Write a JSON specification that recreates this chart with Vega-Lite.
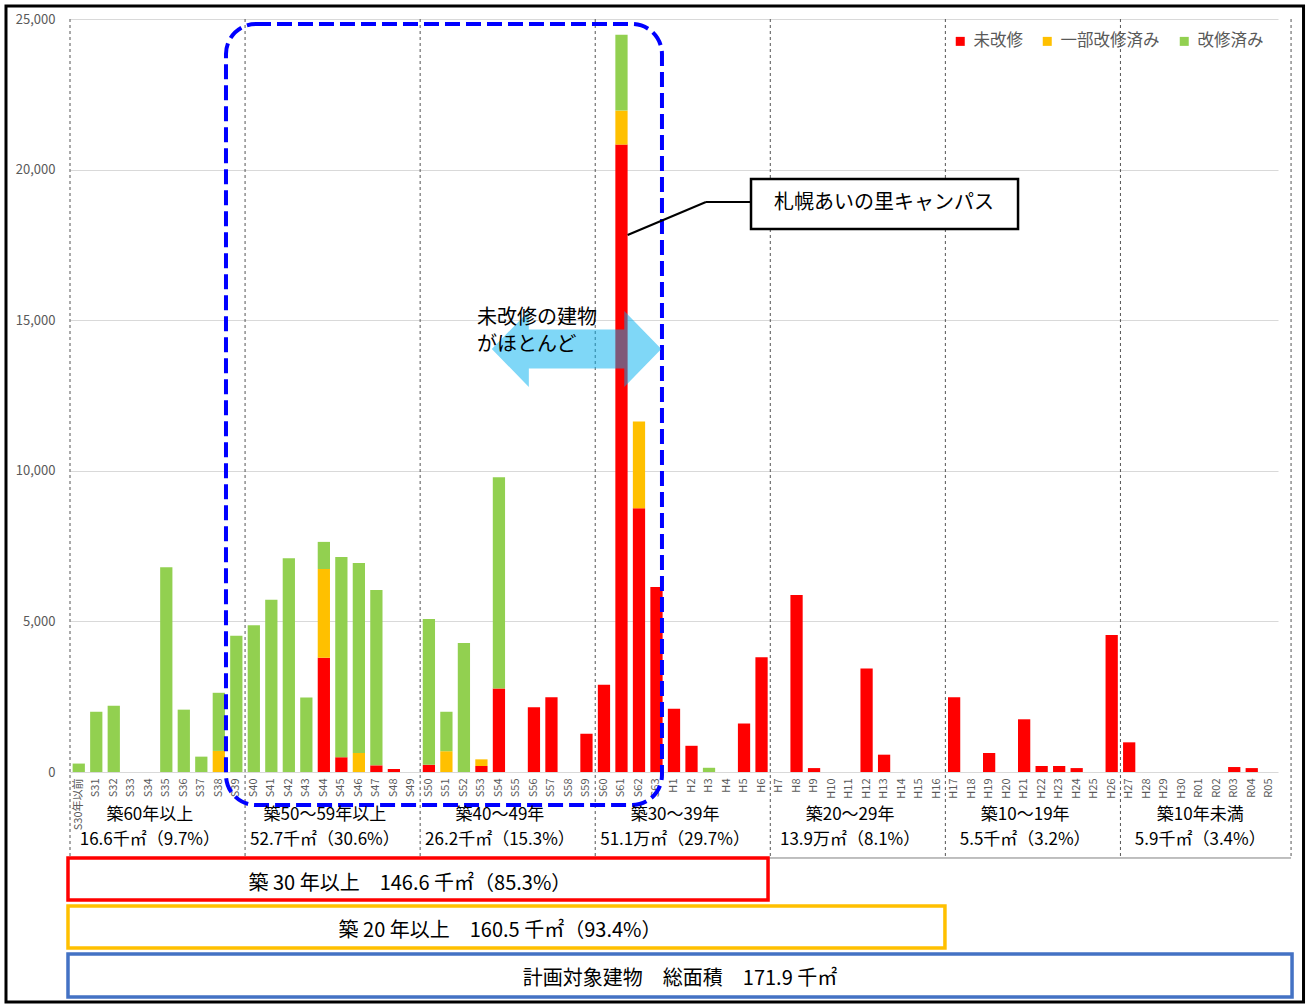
{
  "$schema": "https://vega.github.io/schema/vega-lite/v6.json",
  "autosize": {"type": "none"},
  "padding": {"left": 70, "top": 19, "right": 30, "bottom": 233},
  "width": 1208,
  "height": 753,
  "background": "white",
  "config": {"font": "Noto Sans CJK JP", "view": {"stroke": null}},
  "datasets": {
    "bars": [
      {"year": "S30年以前", "status": "改修済み", "area": 280},
      {"year": "S31", "status": "改修済み", "area": 2000},
      {"year": "S32", "status": "改修済み", "area": 2200},
      {"year": "S35", "status": "改修済み", "area": 6800},
      {"year": "S36", "status": "改修済み", "area": 2070},
      {"year": "S37", "status": "改修済み", "area": 510},
      {"year": "S38", "status": "一部改修済み", "area": 700},
      {"year": "S38", "status": "改修済み", "area": 1930},
      {"year": "S39", "status": "改修済み", "area": 4520},
      {"year": "S40", "status": "改修済み", "area": 4870},
      {"year": "S41", "status": "改修済み", "area": 5720},
      {"year": "S42", "status": "改修済み", "area": 7100},
      {"year": "S43", "status": "改修済み", "area": 2470},
      {"year": "S44", "status": "未改修", "area": 3790},
      {"year": "S44", "status": "一部改修済み", "area": 2950},
      {"year": "S44", "status": "改修済み", "area": 900},
      {"year": "S45", "status": "未改修", "area": 490},
      {"year": "S45", "status": "改修済み", "area": 6650},
      {"year": "S46", "status": "一部改修済み", "area": 630},
      {"year": "S46", "status": "改修済み", "area": 6310},
      {"year": "S47", "status": "未改修", "area": 220},
      {"year": "S47", "status": "改修済み", "area": 5820},
      {"year": "S48", "status": "未改修", "area": 100},
      {"year": "S50", "status": "未改修", "area": 240},
      {"year": "S50", "status": "改修済み", "area": 4840},
      {"year": "S51", "status": "一部改修済み", "area": 690},
      {"year": "S51", "status": "改修済み", "area": 1310},
      {"year": "S52", "status": "改修済み", "area": 4280},
      {"year": "S53", "status": "未改修", "area": 200},
      {"year": "S53", "status": "一部改修済み", "area": 220},
      {"year": "S54", "status": "未改修", "area": 2770},
      {"year": "S54", "status": "改修済み", "area": 7020},
      {"year": "S56", "status": "未改修", "area": 2150},
      {"year": "S57", "status": "未改修", "area": 2480},
      {"year": "S59", "status": "未改修", "area": 1270},
      {"year": "S60", "status": "未改修", "area": 2900},
      {"year": "S61", "status": "未改修", "area": 20830},
      {"year": "S61", "status": "一部改修済み", "area": 1130},
      {"year": "S61", "status": "改修済み", "area": 2520},
      {"year": "S62", "status": "未改修", "area": 8760},
      {"year": "S62", "status": "一部改修済み", "area": 2880},
      {"year": "S63", "status": "未改修", "area": 6140},
      {"year": "H1", "status": "未改修", "area": 2100},
      {"year": "H2", "status": "未改修", "area": 870},
      {"year": "H3", "status": "改修済み", "area": 140},
      {"year": "H5", "status": "未改修", "area": 1610},
      {"year": "H6", "status": "未改修", "area": 3810},
      {"year": "H8", "status": "未改修", "area": 5880},
      {"year": "H9", "status": "未改修", "area": 130},
      {"year": "H12", "status": "未改修", "area": 3440},
      {"year": "H13", "status": "未改修", "area": 575},
      {"year": "H17", "status": "未改修", "area": 2480},
      {"year": "H19", "status": "未改修", "area": 630},
      {"year": "H21", "status": "未改修", "area": 1750},
      {"year": "H22", "status": "未改修", "area": 200},
      {"year": "H23", "status": "未改修", "area": 200},
      {"year": "H24", "status": "未改修", "area": 130},
      {"year": "H26", "status": "未改修", "area": 4550},
      {"year": "H27", "status": "未改修", "area": 985},
      {"year": "R03", "status": "未改修", "area": 165},
      {"year": "R04", "status": "未改修", "area": 130}
    ],
    "statuses": [
      {"status": "未改修", "rank": 1},
      {"status": "一部改修済み", "rank": 2},
      {"status": "改修済み", "rank": 3}
    ],
    "groups": [
      {"from": "S30年以前", "label1": "築60年以上", "label2": "16.6千㎡（9.7%）"},
      {"from": "S40", "label1": "築50～59年以上", "label2": "52.7千㎡（30.6%）"},
      {"from": "S50", "label1": "築40～49年", "label2": "26.2千㎡（15.3%）"},
      {"from": "S60", "label1": "築30～39年", "label2": "51.1万㎡（29.7%）"},
      {"from": "H7", "label1": "築20～29年", "label2": "13.9万㎡（8.1%）"},
      {"from": "H17", "label1": "築10～19年", "label2": "5.5千㎡（3.2%）"},
      {"from": "H27", "label1": "築10年未満", "label2": "5.9千㎡（3.4%）"}
    ]
  },
  "layer": [
    {
      "data": {"name": "groups"},
      "mark": {"type": "rule", "stroke": "#555555", "strokeWidth": 1, "strokeDash": [3, 3]},
      "encoding": {
        "x": {"field": "from", "type": "nominal", "bandPosition": -0.214},
        "y": {"datum": 25000},
        "y2": {"datum": -2855}
      }
    },
    {
      "data": {"values": [{}]},
      "mark": {"type": "rule", "stroke": "#555555", "strokeWidth": 1, "strokeDash": [3, 3]},
      "encoding": {
        "x": {"datum": "R05", "bandPosition": 2.28},
        "y": {"datum": 25000},
        "y2": {"datum": -2855}
      }
    },
    {
      "data": {"values": [{}]},
      "mark": {"type": "rule", "stroke": "#7f7f7f", "strokeWidth": 1},
      "encoding": {
        "x": {"datum": "S30年以前", "bandPosition": -0.214},
        "x2": {"datum": "R05", "bandPosition": 2.28},
        "y": {"datum": -2855}
      }
    },
    {
      "data": {"name": "bars"},
      "transform": [
        {"lookup": "status", "from": {"data": {"name": "statuses"}, "key": "status", "fields": ["rank"]}}
      ],
      "mark": {"type": "bar"},
      "encoding": {
        "x": {
          "field": "year",
          "type": "nominal",
          "title": null,
          "scale": {
            "domain": ["S30年以前","S31","S32","S33","S34","S35","S36","S37","S38","S39","S40","S41","S42","S43","S44","S45","S46","S47","S48","S49","S50","S51","S52","S53","S54","S55","S56","S57","S58","S59","S60","S61","S62","S63","H1","H2","H3","H4","H5","H6","H7","H8","H9","H10","H11","H12","H13","H14","H15","H16","H17","H18","H19","H20","H21","H22","H23","H24","H25","H26","H27","H28","H29","H30","R01","R02","R03","R04","R05"],
            "paddingInner": 0.3,
            "paddingOuter": 0.15,
            "round": false
          },
          "axis": {
            "labelAngle": 270,
            "labelAlign": "right",
            "labelBaseline": "middle",
            "labelFontSize": 11,
            "labelColor": "#595959",
            "labelPadding": 6,
            "ticks": false,
            "tickSize": 0,
            "domain": false,
            "grid": false,
            "labelOverlap": false
          }
        },
        "y": {
          "field": "area",
          "type": "quantitative",
          "stack": "zero",
          "title": null,
          "scale": {"domain": [0, 25000], "nice": false},
          "axis": {
            "values": [0, 5000, 10000, 15000, 20000, 25000],
            "format": ",d",
            "grid": true,
            "gridColor": "#d9d9d9",
            "gridWidth": 1,
            "domain": false,
            "ticks": false,
            "labelFontSize": 13,
            "labelColor": "#595959",
            "labelPadding": 15
          }
        },
        "color": {
          "field": "status",
          "type": "nominal",
          "scale": {"domain": ["未改修", "一部改修済み", "改修済み"], "range": ["#FF0000", "#FFC000", "#92D050"]},
          "legend": {
            "title": null,
            "orient": "top-right",
            "direction": "horizontal",
            "offset": 14,
            "symbolType": "square",
            "symbolSize": 81,
            "symbolStrokeWidth": 0,
            "labelFontSize": 16.5,
            "labelColor": "#595959",
            "labelOffset": 5,
            "columnPadding": 16,
            "padding": 0
          }
        },
        "order": {"field": "rank", "type": "quantitative", "sort": "ascending"}
      }
    },
    {
      "data": {"values": [{}]},
      "mark": {"type": "rect", "fill": "white", "fillOpacity": 0, "stroke": "#0000FF", "strokeWidth": 4, "strokeDash": [15, 6], "cornerRadius": 30},
      "encoding": {
        "x": {"datum": "S39", "bandPosition": -0.343},
        "x2": {"datum": "S63", "bandPosition": 0.947},
        "y": {"datum": 24834},
        "y2": {"datum": -1096}
      }
    },
    {
      "data": {"values": [{}]},
      "mark": {"type": "point", "shape": "M-1,0 L-0.563,-0.448 L-0.563,-0.23 L0.563,-0.23 L0.563,-0.448 L1,0 L0.563,0.448 L0.563,0.23 L-0.563,0.23 L-0.563,0.448 Z", "size": 28730, "filled": true, "fill": "#00B0F0", "fillOpacity": 0.5, "strokeWidth": 0, "opacity": 1},
      "encoding": {
        "x": {"datum": "S58", "bandPosition": 1.12},
        "y": {"datum": 14044}
      }
    },
    {
      "data": {"values": [{"text": "未改修の建物\nがほとんど"}]},
      "mark": {"type": "text", "align": "left", "baseline": "middle", "fontSize": 20, "lineHeight": 27, "lineBreak": "\n", "color": "#000000"},
      "encoding": {
        "x": {"datum": "S53", "bandPosition": 0.14},
        "y": {"datum": 15073},
        "text": {"field": "text"}
      }
    },
    {
      "data": {"values": [{}]},
      "mark": {"type": "rule", "stroke": "#000000", "strokeWidth": 2},
      "encoding": {
        "x": {"datum": "S61", "bandPosition": 1.0},
        "x2": {"datum": "H3", "bandPosition": 0.25},
        "y": {"datum": 17829},
        "y2": {"datum": 18924}
      }
    },
    {
      "data": {"values": [{}]},
      "mark": {"type": "rule", "stroke": "#000000", "strokeWidth": 2},
      "encoding": {
        "x": {"datum": "H3", "bandPosition": 0.25},
        "x2": {"datum": "H5", "bandPosition": 1.07},
        "y": {"datum": 18924}
      }
    },
    {
      "data": {"values": [{}]},
      "mark": {"type": "rect", "fill": "white", "stroke": "#000000", "strokeWidth": 2.5},
      "encoding": {
        "x": {"datum": "H5", "bandPosition": 1.07},
        "x2": {"datum": "H20", "bandPosition": 1.43},
        "y": {"datum": 19688},
        "y2": {"datum": 18028}
      }
    },
    {
      "data": {"values": [{"text": "札幌あいの里キャンパス"}]},
      "mark": {"type": "text", "align": "center", "baseline": "middle", "fontSize": 20, "color": "#000000"},
      "encoding": {
        "x": {"datum": "H13", "bandPosition": 0.49},
        "y": {"datum": 18891},
        "text": {"field": "text"}
      }
    },
    {
      "data": {"name": "groups"},
      "mark": {"type": "text", "align": "center", "baseline": "middle", "fontSize": 17, "color": "#000000"},
      "encoding": {
        "x": {"field": "from", "type": "nominal", "bandPosition": 6.3},
        "y": {"datum": -1428},
        "text": {"field": "label1"}
      }
    },
    {
      "data": {"name": "groups"},
      "mark": {"type": "text", "align": "center", "baseline": "middle", "fontSize": 17, "color": "#000000"},
      "encoding": {
        "x": {"field": "from", "type": "nominal", "bandPosition": 6.3},
        "y": {"datum": -2258},
        "text": {"field": "label2"}
      }
    },
    {
      "data": {"values": [{}]},
      "mark": {"type": "rect", "fill": "white", "fillOpacity": 0, "stroke": "#FF0000", "strokeWidth": 3.5},
      "encoding": {
        "x": {"datum": "S30年以前", "bandPosition": -0.378},
        "x2": {"datum": "H6", "bandPosition": 1.03},
        "y": {"datum": -2855},
        "y2": {"datum": -4250}
      }
    },
    {
      "data": {"values": [{}]},
      "mark": {"type": "rect", "fill": "white", "fillOpacity": 0, "stroke": "#FFC000", "strokeWidth": 3.5},
      "encoding": {
        "x": {"datum": "S30年以前", "bandPosition": -0.378},
        "x2": {"datum": "H16", "bandPosition": 1.18},
        "y": {"datum": -4449},
        "y2": {"datum": -5843}
      }
    },
    {
      "data": {"values": [{}]},
      "mark": {"type": "rect", "fill": "white", "fillOpacity": 0, "stroke": "#4472C4", "strokeWidth": 3.5},
      "encoding": {
        "x": {"datum": "S30年以前", "bandPosition": -0.378},
        "x2": {"datum": "R05", "bandPosition": 2.36},
        "y": {"datum": -6042},
        "y2": {"datum": -7470}
      }
    },
    {
      "data": {"values": [{"text": "築 30 年以上　146.6 千㎡（85.3%）"}]},
      "mark": {"type": "text", "align": "center", "baseline": "middle", "fontSize": 20, "color": "#000000"},
      "encoding": {
        "x": {"datum": "S49", "bandPosition": 0.38},
        "y": {"datum": -3718},
        "text": {"field": "text"}
      }
    },
    {
      "data": {"values": [{"text": "築 20 年以上　160.5 千㎡（93.4%）"}]},
      "mark": {"type": "text", "align": "center", "baseline": "middle", "fontSize": 20, "color": "#000000"},
      "encoding": {
        "x": {"datum": "S54", "bandPosition": 0.59},
        "y": {"datum": -5279},
        "text": {"field": "text"}
      }
    },
    {
      "data": {"values": [{"text": "計画対象建物　総面積　171.9 千㎡"}]},
      "mark": {"type": "text", "align": "center", "baseline": "middle", "fontSize": 20, "color": "#000000"},
      "encoding": {
        "x": {"datum": "H1", "bandPosition": 0.99},
        "y": {"datum": -6873},
        "text": {"field": "text"}
      }
    },
    {
      "data": {"values": [{}]},
      "mark": {"type": "rect", "fill": "white", "fillOpacity": 0, "stroke": "#000000", "strokeWidth": 3},
      "encoding": {
        "x": {"datum": "S30年以前", "bandPosition": -5.437},
        "x2": {"datum": "R05", "bandPosition": 3.297},
        "y": {"datum": 25432},
        "y2": {"datum": -7636}
      }
    }
  ]
}
